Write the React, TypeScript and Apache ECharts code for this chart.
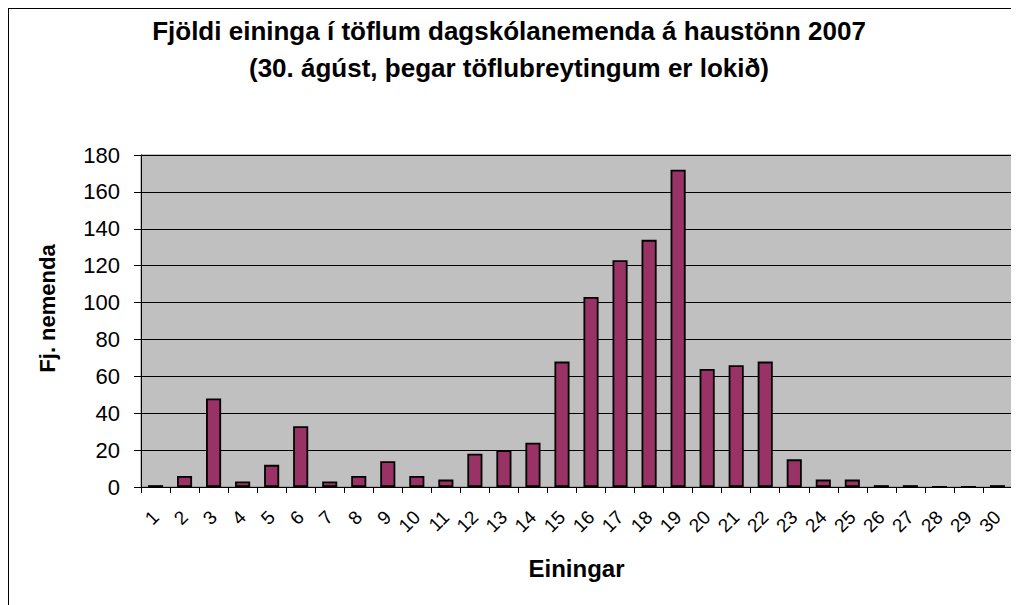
import React, { useEffect, useRef } from "react";
import * as echarts from "echarts";

const titleLines = [
  "Fjöldi eininga í töflum dagskólanemenda á haustönn 2007",
  "(30. ágúst, þegar töflubreytingum er lokið)",
];
const xAxisTitle = "Einingar";
const yAxisTitle = "Fj. nemenda";
const categories = [
  "1", "2", "3", "4", "5", "6", "7", "8", "9", "10",
  "11", "12", "13", "14", "15", "16", "17", "18", "19", "20",
  "21", "22", "23", "24", "25", "26", "27", "28", "29", "30",
];
const students = [
  1, 6, 48, 3, 12, 33, 3, 6, 14, 6,
  4, 18, 20, 24, 68, 103, 123, 134, 172, 64,
  66, 68, 15, 4, 4, 1, 1, 0, 0, 1,
];
const yMin = 0;
const yMax = 180;
const yStep = 20;

const FONT = "'Liberation Sans', Arial, sans-serif";

export default function App() {
  const ref = useRef<HTMLDivElement>(null);

  useEffect(() => {
    document.body.style.overflow = "hidden";
    if (!ref.current) return;
    const chart = echarts.init(ref.current, undefined, { renderer: "svg" });
    chart.setOption({
      animation: false,
      backgroundColor: "#ffffff",
      textStyle: { fontFamily: FONT, color: "#000" },
      title: {
        text: titleLines.join("\n"),
        left: 500,
        top: 3,
        padding: 0,
        textAlign: "center",
        textStyle: {
          fontFamily: FONT,
          fontSize: 26,
          fontWeight: "bold",
          color: "#000",
          lineHeight: 37,
        },
      },
      grid: {
        left: 132,
        top: 146,
        width: 871,
        height: 332,
        show: true,
        backgroundColor: "#C0C0C0",
        borderColor: "#808080",
        borderWidth: 1,
        containLabel: false,
      },
      xAxis: {
        type: "category",
        data: categories,
        name: xAxisTitle,
        nameLocation: "middle",
        nameGap: 69,
        nameTextStyle: { fontFamily: FONT, fontSize: 24, fontWeight: "bold", color: "#000" },
        axisLine: { show: true, lineStyle: { color: "#000", width: 1 } },
        axisTick: { show: true, length: 6, lineStyle: { color: "#000" } },
        axisLabel: {
          interval: 0,
          rotate: 45,
          margin: 27,
          fontFamily: FONT,
          fontSize: 19,
          color: "#000",
        },
        splitLine: { show: false },
      },
      yAxis: {
        type: "value",
        min: yMin,
        max: yMax,
        interval: yStep,
        name: yAxisTitle,
        nameLocation: "middle",
        nameGap: 83,
        nameTextStyle: {
          fontFamily: FONT,
          fontSize: 22,
          fontWeight: "bold",
          color: "#000",
          padding: [0, 0, 0, 25],
        },
        axisLine: { show: true, lineStyle: { color: "#000", width: 1 } },
        axisTick: { show: true, length: 7, lineStyle: { color: "#000" } },
        axisLabel: { margin: 21, fontFamily: FONT, fontSize: 22, color: "#000" },
        splitLine: { show: true, lineStyle: { color: "#000", width: 1 } },
      },
      series: [
        {
          type: "bar",
          data: students,
          barWidth: "52%",
          itemStyle: { color: "#993366", borderColor: "#000", borderWidth: 1.8 },
        },
      ],
    });
    return () => chart.dispose();
  }, []);

  return (
    <div
      ref={ref}
      style={{ width: 1030, height: 620, border: "1px solid #000" }}
    />
  );
}
